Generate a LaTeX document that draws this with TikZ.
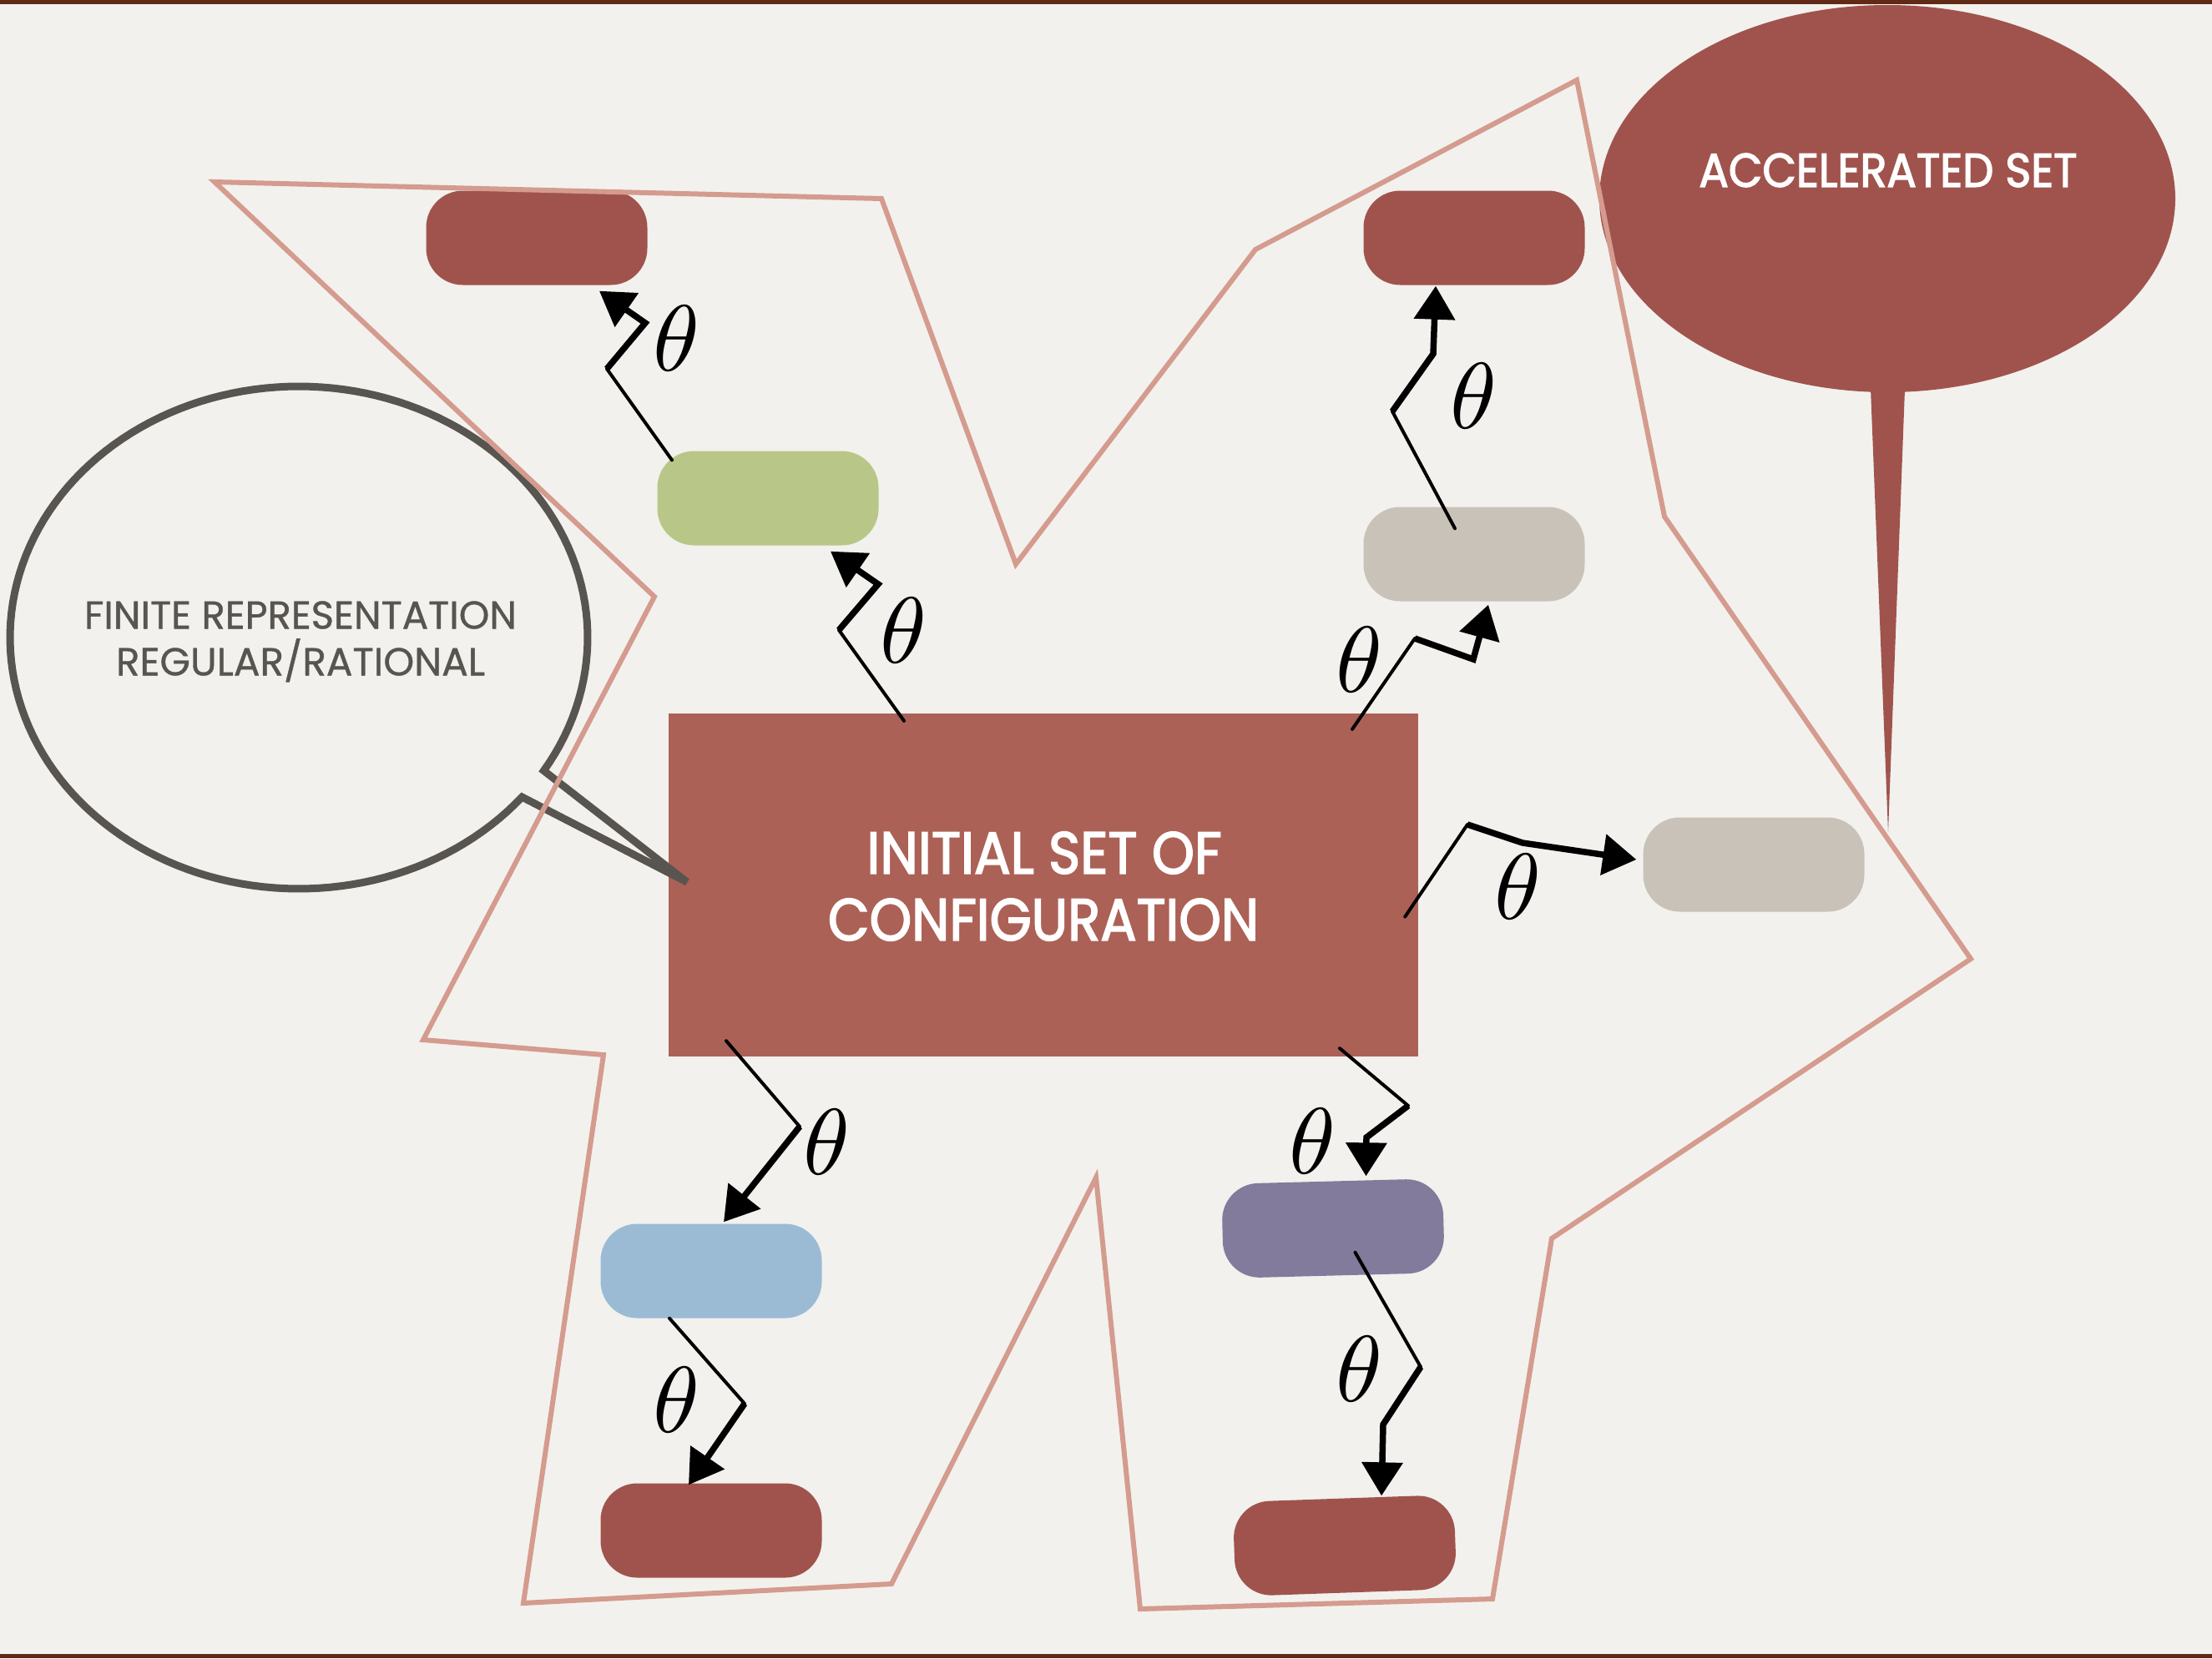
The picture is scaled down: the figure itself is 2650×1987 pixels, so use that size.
\documentclass[tikz,border=0pt]{standalone}
\usepackage{fontspec}
\usepackage{graphicx}
\usetikzlibrary{arrows.meta}
\newfontfamily\futfont{Poppins}[FakeBold=0.8]
\newfontfamily\futmed{Poppins}[FakeBold=2.5]
\newcommand{\fitbox}[3]{\resizebox{#1}{#2}{#3}}
\definecolor{paper}{RGB}{242,241,237}
\definecolor{framebrown}{RGB}{96,42,22}
\definecolor{initred}{RGB}{172,97,86}
\definecolor{darkred}{RGB}{160,83,77}
\definecolor{sagegreen}{RGB}{184,199,135}
\definecolor{warmgray}{RGB}{201,194,185}
\definecolor{skyblue}{RGB}{155,187,213}
\definecolor{dustpurple}{RGB}{130,123,156}
\definecolor{pinkline}{RGB}{212,155,142}
\definecolor{inkgray}{RGB}{88,85,80}
\begin{document}
\begin{tikzpicture}[x=1pt,y=-1pt,
  cbox/.style={rounded corners=44pt, minimum width=265pt, minimum height=113pt, inner sep=0pt, draw=none},
  zigthin/.style={line width=4pt, line cap=round},
  zig/.style={line width=7.5pt, line join=miter, -{Triangle[length=40pt,width=48pt]}},
  lbl/.style={inner sep=0pt, outer sep=0pt},
  theta/.style={lbl, text=black},
]
\useasboundingbox (0,0) rectangle (2650,1987);
% paper
\fill[paper] (0,0) rectangle (2650,1987);
\fill[framebrown] (0,0) rectangle (2650,5);
\fill[framebrown] (0,1982) rectangle (2650,1987);

% right callout
\fill[darkred] (2261,238) ellipse [x radius=345pt, y radius=232pt];
\fill[darkred] (2240,440) -- (2283,440) -- (2262,997) -- cycle;
\node[lbl, text=white] (acc) at (2262,204) {\fitbox{453pt}{40pt}{\futmed ACCELERATED SET}};

% boxes
\node[cbox, fill=darkred] (tlred) at (643,285) {};
\node[cbox, fill=sagegreen] (green) at (920,597) {};
\node[cbox, fill=darkred] (trred) at (1766,285) {};
\node[cbox, fill=warmgray] (grayup) at (1766,664) {};
\node[cbox, fill=warmgray] (grayr) at (2101,1036) {};
\node[cbox, fill=skyblue] (blue) at (852,1523) {};
\node[cbox, fill=darkred] (blred) at (852,1834) {};
\node[cbox, fill=dustpurple, rotate=1.5] (purple) at (1597,1472) {};
\node[cbox, fill=darkred, rotate=2] (brred) at (1611,1852) {};

% central rectangle
\node[fill=initred, minimum width=898pt, minimum height=411pt, inner sep=0pt] (init) at (1250,1060.5) {};
\node[lbl, text=white] (it1) at (1251,1022) {\fitbox{425pt}{50pt}{\futmed INITIAL SET OF}};
\node[lbl, text=white] (it2) at (1250,1102) {\fitbox{516pt}{50pt}{\futmed CONFIGURATION}};

% left callout
\draw[inkgray, line width=9pt, line join=miter]
  plot[domain=39.4:392, samples=160] ({358+346*cos(\x)},{764+301*sin(\x)})
  -- (823,1057) -- cycle;
\node[lbl, text=inkgray] (ft1) at (360,737) {\fitbox{518pt}{33pt}{\futfont FINITE REPRESENTATION}};
\node[lbl, text=inkgray] (ft2) at (360,793) {\fitbox{442pt}{33pt}{\futfont REGULAR\smash{/}RATIONAL}};

% pink polygon
\draw[pinkline, line width=6pt, line join=miter]
  (257,218) -- (1056,238) -- (1217,676) -- (1504,299) -- (1889,96) -- (1994,619)
  -- (2361,1149) -- (1859,1484) -- (1788,1916) -- (1366,1928) -- (1313,1411)
  -- (1068,1898) -- (627,1921) -- (723,1264) -- (507,1246) -- (784,715) -- cycle;

% arrow kinks
\coordinate (a1) at (1005,755);  \coordinate (a2) at (1052,700);
\coordinate (b1) at (727,442);   \coordinate (b2) at (773,387);
\coordinate (c1) at (1695,765);  \coordinate (c2) at (1765,790);
\coordinate (d1) at (1668,493);  \coordinate (d2) at (1717,424);
\coordinate (e1) at (1758,988);  \coordinate (e2) at (1824,1010);
\coordinate (f1) at (958,1350);
\coordinate (g1) at (892,1682);
\coordinate (h1) at (1687,1325); \coordinate (h2) at (1637,1363);
\coordinate (i1) at (1702,1638); \coordinate (i2) at (1657,1707);

% arrows
\draw[zigthin] ([xshift=-167pt,yshift=-9pt]init.north) -- (a1);
\draw[zig] (a1) -- (a2) -- ([xshift=75pt,yshift=-7pt]green.south);
\draw[zigthin] ([xshift=-115pt,yshift=-11pt]green.north) -- (b1);
\draw[zig] (b1) -- (b2) -- ([xshift=75pt,yshift=-7pt]tlred.south);
\draw[zigthin] ([xshift=370pt,yshift=-19pt]init.north) -- (c1);
\draw[zig] (c1) -- (c2) -- ([xshift=17pt,yshift=-4pt]grayup.south);
\draw[zigthin] ([xshift=-23pt,yshift=-26pt]grayup.north) -- (d1);
\draw[zig] (d1) -- (d2) -- ([xshift=-46pt,yshift=-1pt]trred.south);
\draw[zigthin] ([xshift=-16pt,yshift=-38pt]init.east) -- (e1);
\draw[zig] (e1) -- (e2) -- ([xshift=-8pt,yshift=6pt]grayr.west);
\draw[zigthin] ([xshift=-380pt,yshift=19pt]init.south) -- (f1);
\draw[zig] (f1) -- ([xshift=15pt,yshift=2pt]blue.north);
\draw[zigthin] ([xshift=-50pt]blue.south) -- (g1);
\draw[zig] (g1) -- ([xshift=-27pt,yshift=-2pt]blred.north);
\draw[zigthin] ([xshift=355pt,yshift=10pt]init.south) -- (h1);
\draw[zig] (h1) -- (h2) -- ([xshift=41pt,yshift=6pt]purple.north);
\draw[zigthin] ([xshift=25pt,yshift=28pt]purple.south) -- (i1);
\draw[zig] (i1) -- (i2) -- ([xshift=46pt,yshift=3pt]brred.north);

% labels
\node[theta] (tA) at (1082,755) {\resizebox{!}{78pt}{$\theta$}};
\node[theta] (tB) at (810,405) {\resizebox{!}{78pt}{$\theta$}};
\node[theta] (tC) at (1628,790) {\resizebox{!}{78pt}{$\theta$}};
\node[theta] (tD) at (1765,474) {\resizebox{!}{78pt}{$\theta$}};
\node[theta] (tE) at (1818,1062) {\resizebox{!}{78pt}{$\theta$}};
\node[theta] (tF) at (990,1368) {\resizebox{!}{78pt}{$\theta$}};
\node[theta] (tG) at (810,1677) {\resizebox{!}{78pt}{$\theta$}};
\node[theta] (tH) at (1572,1367) {\resizebox{!}{78pt}{$\theta$}};
\node[theta] (tI) at (1628,1640) {\resizebox{!}{78pt}{$\theta$}};
\end{tikzpicture}
\end{document}
